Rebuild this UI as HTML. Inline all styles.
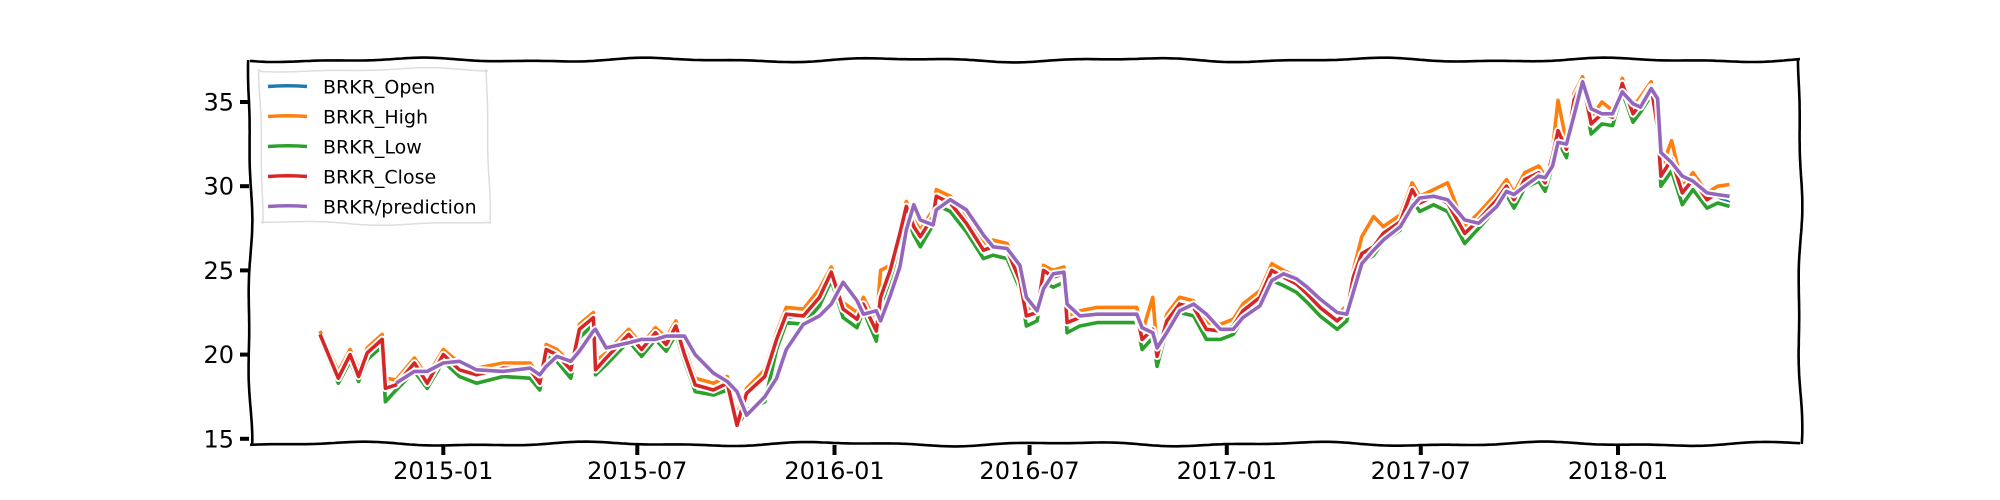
<!DOCTYPE html>
<html><head><meta charset="utf-8"><style>
html,body{margin:0;padding:0;background:#fff;}
svg{display:block;font-family:"DejaVu Sans","Liberation Sans",sans-serif;}
</style></head><body>
<svg id="chart" width="2000" height="500" viewBox="0 0 2000 500" xmlns="http://www.w3.org/2000/svg">
<rect width="2000" height="500" fill="#fff"/>
<g id="series"></g>
<g id="frame"></g>
<g id="ticks"></g>
<g id="legend"></g>
</svg>
<script>
// days since 2015-01-01
const days = [-115,-98,-87,-79,-71,-57,-54,-44,-27,-15,0,15,31,56,81,90,96,106,119,127,140,142,152,173,185,198,208,217,225,235,252,265,274,283,300,311,320,336,351,362,373,386,392,404,408,417,426,432,439,445,457,460,473,488,504,513,526,538,544,554,560,569,579,582,594,610,631,647,652,662,666,675,687,700,712,725,737,746,762,773,784,796,806,818,834,843,849,857,868,877,893,904,911,924,937,953,966,983,992,999,1009,1022,1028,1035,1040,1048,1055,1063,1071,1081,1091,1100,1110,1117,1127,1133,1136,1146,1156,1166,1179,1189,1200];
const closeVals = [21.2,18.6,20.0,18.7,20.1,20.9,18.0,18.2,19.5,18.3,20.0,19.1,18.8,19.2,19.1,18.3,20.3,20.0,19.1,21.5,22.2,19.1,19.8,21.2,20.3,21.3,20.6,21.7,20.0,18.2,17.9,18.3,15.8,17.7,18.7,20.9,22.4,22.3,23.4,24.9,22.7,22.1,23.0,21.4,23.4,25.0,27.2,28.8,27.6,27.0,28.2,29.4,29.0,27.8,26.2,26.4,26.2,24.4,22.3,22.5,25.0,24.6,24.8,21.9,22.2,22.4,22.4,22.4,20.9,21.5,19.9,22.0,23.0,22.8,21.5,21.4,21.7,22.6,23.4,25.0,24.6,24.2,23.6,22.8,22.0,22.5,24.6,26.0,26.4,27.2,27.9,29.8,29.0,29.4,29.0,27.2,28.0,29.2,30.0,29.2,30.4,30.8,30.2,31.8,33.3,32.2,35.1,36.2,33.7,34.3,34.1,36.1,34.3,34.9,35.9,33.5,30.6,31.6,29.6,30.4,29.2,29.6,29.4];
const openVals = [21.0,18.8,19.8,18.9,19.9,20.7,18.3,18.3,19.3,18.5,19.8,19.2,18.9,19.1,19.2,18.5,20.1,20.0,19.3,21.3,22.0,19.4,19.7,21.0,20.4,21.1,20.7,21.5,20.2,18.4,18.0,18.2,16.1,17.6,18.6,20.6,22.2,22.3,23.2,24.6,22.9,22.2,22.9,21.6,23.2,24.8,27.0,28.6,27.8,27.1,28.0,29.2,29.1,27.9,26.4,26.3,26.3,24.6,22.5,22.5,24.8,24.7,24.7,22.1,22.1,22.4,22.4,22.4,21.1,21.4,20.1,21.8,22.9,22.8,21.7,21.4,21.6,22.5,23.3,24.8,24.7,24.3,23.7,22.9,22.1,22.4,24.4,25.8,26.3,27.1,27.8,29.6,29.1,29.3,29.1,27.4,27.9,29.1,29.9,29.3,30.2,30.7,30.3,31.6,33.1,32.4,34.9,36.0,33.9,34.2,34.2,35.9,34.4,34.8,35.7,33.7,30.9,31.5,29.8,30.2,29.3,29.4,29.0];
const highVals = [21.4,19.0,20.3,19.1,20.4,21.2,18.6,18.5,19.8,18.7,20.3,19.5,19.2,19.5,19.5,18.7,20.6,20.3,19.5,21.8,22.5,19.6,20.1,21.5,20.6,21.6,21.0,22.0,20.4,18.6,18.3,18.7,16.4,18.0,19.1,21.3,22.8,22.7,23.9,25.2,23.1,22.5,23.4,21.9,25.0,25.3,27.5,29.1,28.0,27.4,28.6,29.8,29.4,28.2,26.6,26.8,26.6,24.8,22.7,22.9,25.3,25.0,25.2,22.3,22.6,22.8,22.8,22.8,21.3,23.4,20.3,22.4,23.4,23.2,21.9,21.8,22.1,23.0,23.8,25.4,25.0,24.6,24.0,23.2,22.4,22.9,25.0,27.0,28.2,27.6,28.3,30.2,29.4,29.8,30.2,27.6,28.4,29.6,30.4,29.6,30.8,31.2,30.6,32.2,35.1,32.6,35.5,36.5,34.1,35.0,34.5,36.4,34.7,35.3,36.2,33.9,31.0,32.7,30.0,30.8,29.6,30.0,30.1];
const lowVals = [20.9,18.3,19.6,18.4,19.7,20.5,17.2,17.9,19.0,18.0,19.6,18.7,18.3,18.7,18.6,17.9,19.9,19.6,18.6,21.0,21.8,18.8,19.4,20.8,19.9,20.9,20.2,21.2,19.6,17.8,17.6,17.9,15.7,16.7,17.2,20.3,21.9,21.8,22.9,24.4,22.2,21.6,22.6,20.8,22.9,24.4,26.7,28.3,27.1,26.4,27.7,28.9,28.5,27.3,25.7,25.9,25.7,23.9,21.7,22.0,24.3,24.0,24.3,21.3,21.7,21.9,21.9,21.9,20.3,21.0,19.3,21.5,22.5,22.3,20.9,20.9,21.2,22.1,22.9,24.4,24.1,23.7,23.1,22.3,21.5,22.0,24.0,25.4,25.9,26.7,27.4,29.2,28.5,28.9,28.5,26.6,27.5,28.7,29.5,28.7,29.9,30.3,29.7,31.2,32.7,31.7,34.5,35.7,33.1,33.7,33.6,35.6,33.8,34.4,35.4,32.9,30.0,30.9,28.9,29.8,28.7,29.0,28.8];
const predVals = [null,null,null,null,null,null,null,18.3,19.0,19.0,19.5,19.6,19.1,19.0,19.2,18.8,19.3,19.9,19.6,20.2,21.4,21.5,20.4,20.7,20.9,20.9,21.1,21.1,21.1,20.0,18.9,18.4,17.8,16.4,17.5,18.6,20.3,21.8,22.3,23.0,24.3,23.2,22.4,22.6,22.0,23.5,25.2,27.4,28.9,28.0,27.7,28.6,29.2,28.6,27.1,26.4,26.3,25.3,23.4,22.6,23.9,24.8,24.9,23.0,22.3,22.4,22.4,22.4,21.6,21.3,20.4,21.3,22.6,23.0,22.4,21.5,21.5,22.2,22.9,24.4,24.8,24.5,24.0,23.3,22.5,22.4,23.7,25.4,26.2,26.8,27.6,28.8,29.3,29.4,29.2,28.0,27.8,28.8,29.7,29.5,30.0,30.6,30.5,31.2,32.6,32.5,34.2,36.2,34.6,34.3,34.3,35.6,34.9,34.7,35.8,35.2,32.0,31.4,30.6,30.3,29.6,29.5,29.4];
const yTicks = [15,20,25,30,35];
const xTickLabels = ["2015-01","2015-07","2016-01","2016-07","2017-01","2017-07","2018-01"];
const xTickDays = [0,181,365,547,731,912,1096];

const NS = "http://www.w3.org/2000/svg";
const X0 = 443.3, PXD = 1.0718;
function xs(d){ return X0 + d*PXD; }
function ys(v){ return 186.2 + (30 - v)*16.84; }
function mk(tag, attrs, parent){
  const e = document.createElementNS(NS, tag);
  for (const k in attrs) e.setAttribute(k, attrs[k]);
  parent.appendChild(e);
  return e;
}
const series = document.getElementById('series');
const colors = ['#1f77b4','#ff7f0e','#2ca02c','#d62728','#9467bd'];
const names = ['BRKR_Open','BRKR_High','BRKR_Low','BRKR_Close','BRKR/prediction'];
const all = [openVals, highVals, lowVals, closeVals, predVals];
all.forEach((vals, si) => {
  let d = '';
  let started = false;
  vals.forEach((v, i) => {
    if (v === null) return;
    d += (started ? 'L' : 'M') + xs(days[i]).toFixed(1) + ',' + ys(v).toFixed(1);
    started = true;
  });
  const g = mk('g', {}, series);
  
  
  const w = mk('path', {d: d, fill: 'none', stroke: '#fff', 'stroke-width': 7.5, 'stroke-linejoin': 'round'}, g);
  
  
  const p = mk('path', {d: d, fill: 'none', stroke: colors[si], 'stroke-width': 3.6, 'stroke-linejoin': 'round'}, g);
  
  
});

function wiggle(x1, y1, x2, y2, phase){
  const len = Math.hypot(x2 - x1, y2 - y1), n = Math.ceil(len / 4);
  const nx = -(y2 - y1) / len, ny = (x2 - x1) / len;
  let d = '';
  for (let i = 0; i <= n; i++){
    const t = i / n;
    const off = 1.6*Math.sin(t*len/38 + phase) + 0.8*Math.sin(t*len/17 + phase*2);
    d += (i ? 'L' : 'M') + (x1 + (x2 - x1)*t + nx*off).toFixed(1) + ',' + (y1 + (y2 - y1)*t + ny*off).toFixed(1);
  }
  return d;
}
const frame = document.getElementById('frame');
[[250,60,1800,60,0.3],[1800,60,1800,444,1.1],[250,444,1800,444,2.0],[250,60,250,444,0.7]].forEach((s, i) => {
  const p = mk('path', {d: wiggle(s[0], s[1], s[2], s[3], s[4]), fill: 'none', stroke: '#000', 'stroke-width': 2.6}, frame);
  
  
});

const ticks = document.getElementById('ticks');
yTicks.forEach(v => {
  const y = ys(v);
  const l = mk('line', {x1: 240, x2: 249, y1: y, y2: y, stroke: '#000', 'stroke-width': 4}, ticks);
  
  
  const t = mk('text', {x: 234, y: y + 8.5, 'text-anchor': 'end', 'font-size': 24, fill: '#000'}, ticks);
  t.textContent = v;
  
  
});
xTickDays.forEach((d, i) => {
  const x = xs(d);
  const l = mk('line', {x1: x, x2: x, y1: 445, y2: 455, stroke: '#000', 'stroke-width': 4}, ticks);
  
  
  const t = mk('text', {x: x, y: 479, 'text-anchor': 'middle', 'font-size': 24, fill: '#000'}, ticks);
  t.textContent = xTickLabels[i];
  
  
});

const lg = document.getElementById('legend');
const box = mk('path', {d: wiggle(261,70,488,70,0.5) + wiggle(488,70,488,223,1.3).replace('M','L') + wiggle(488,223,261,223,2.2).replace('M','L') + wiggle(261,223,261,70,0.9).replace('M','L') + 'Z', fill: '#fff', 'fill-opacity': 0.85, stroke: '#ddd', 'stroke-width': 1.5}, lg);


names.forEach((n, i) => {
  const y = 86.5 + i*30;
  const g = mk('g', {}, lg);
  
  
  const l = mk('path', {d: 'M268,' + y + ' Q288,' + (y - 1.5) + ' 307,' + y, fill: 'none', stroke: colors[i], 'stroke-width': 3.6}, g);
  
  
  const t = mk('text', {x: 323, y: y + 7, 'font-size': 19, fill: '#000'}, g);
  t.textContent = n;
  
  
});
</script>
</body></html>
